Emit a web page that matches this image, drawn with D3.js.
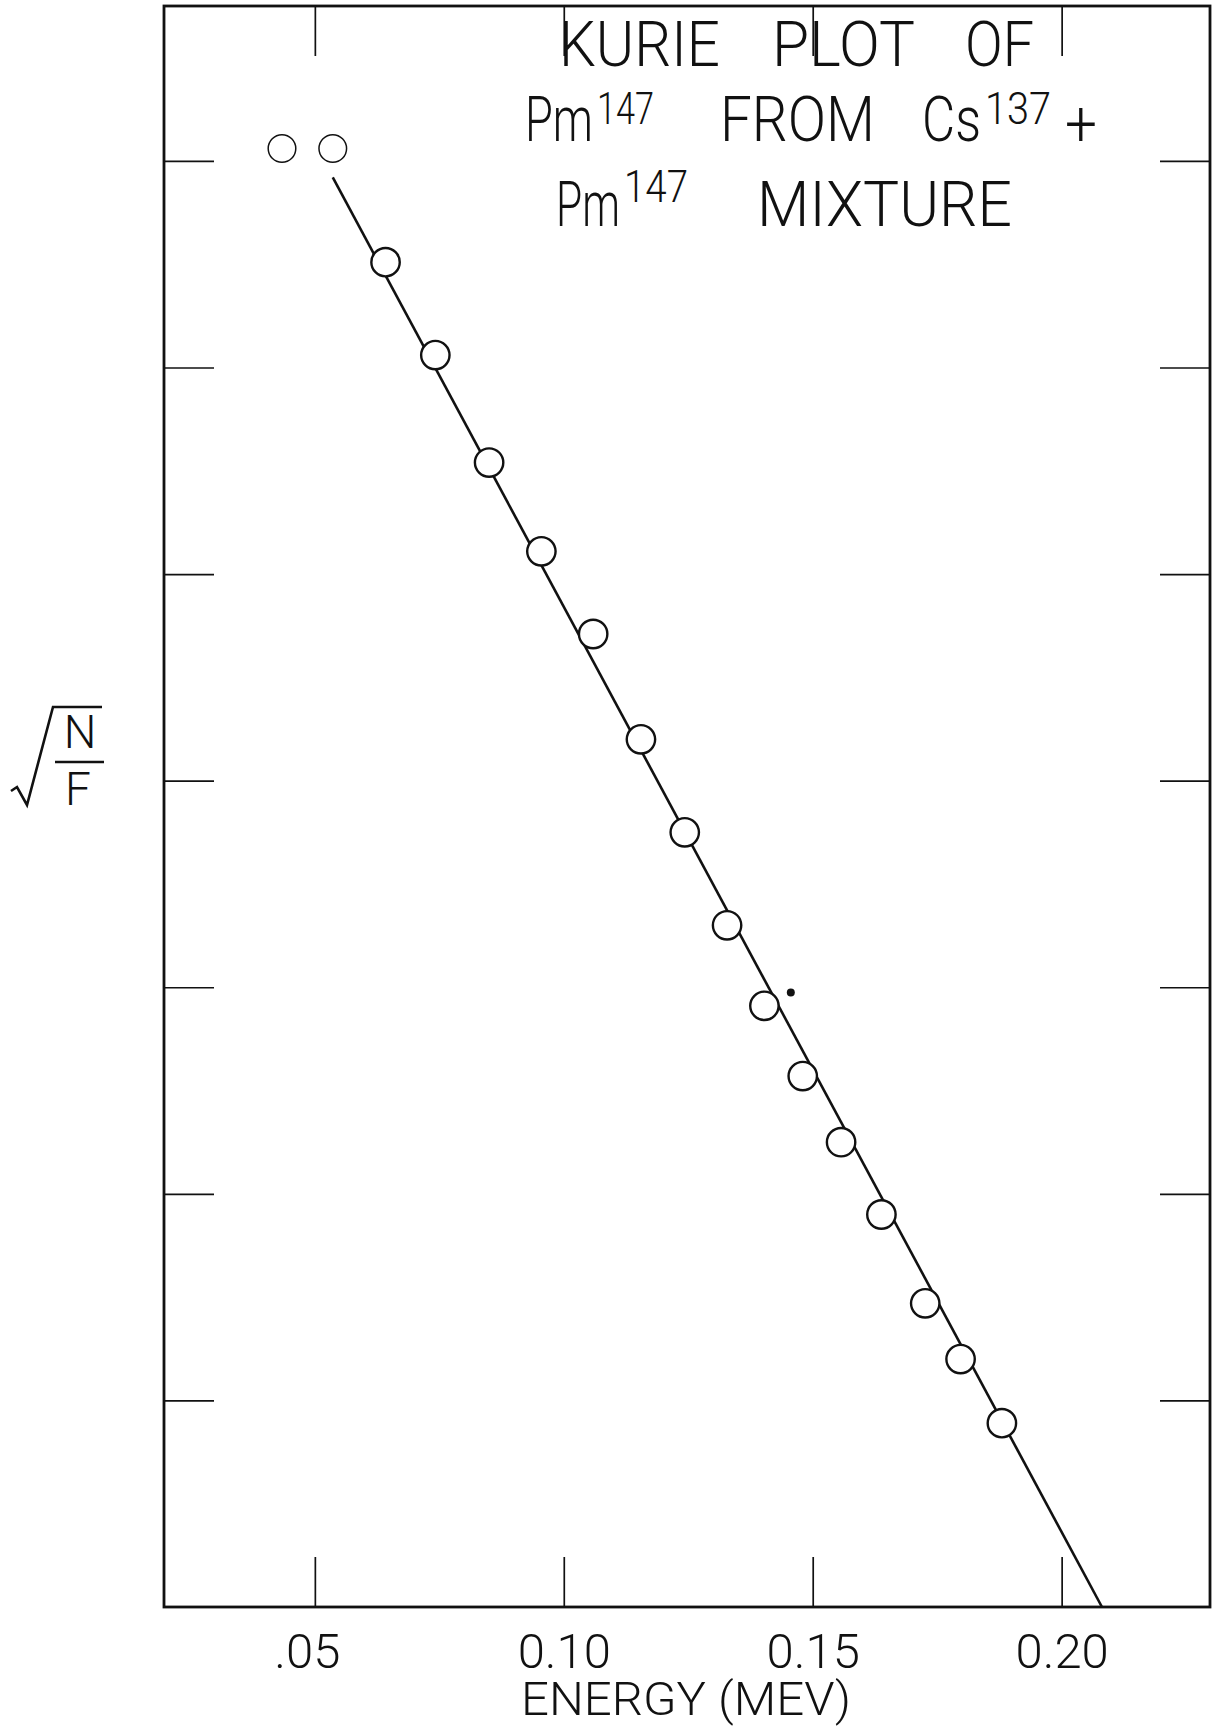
<!DOCTYPE html>
<html>
<head>
<meta charset="utf-8">
<script src="https://cdn.jsdelivr.net/npm/d3@7"></script>
<style>
    body { margin: 0; background: #fff; }
    svg { display: block; }
    text { font-family: Roboto, "Liberation Sans", sans-serif; font-weight: 300; fill: #111; }
</style>
</head>
<body>
<div id="chart"></div>
<script>
"use strict";

// measured points of the Kurie plot (energy in MeV, sqrt(N/F) in tick units)
var energy = [0.0434, 0.0536, 0.0642, 0.0742, 0.0850, 0.0955, 0.1059, 0.1155, 0.1243,
              0.1328, 0.1403, 0.1480, 0.1557, 0.1638, 0.1726, 0.1797, 0.1880];
var sqrtNF = [7.06, 7.06, 6.51, 6.06, 5.54, 5.11, 4.71, 4.20, 3.75,
              3.30, 2.91, 2.57, 2.25, 1.90, 1.47, 1.20, 0.89];

// the two low energy points are drawn lighter
var lightPoints = 2;

// straight line fit
var fitEnergy = [0.0536, 0.2081];
var fitSqrtNF = [6.92, 0];

// single filled dot next to the line
var dotEnergy = [0.1456];
var dotSqrtNF = [2.975];

// axes
var xTickValues = [0.05, 0.10, 0.15, 0.20];
var xTickLabels = [".05", "0.10", "0.15", "0.20"];
var yTickValues = [1, 2, 3, 4, 5, 6, 7];

// title words, hand lettered: [text, superscript?]
var titleLine1 = [["KURIE", 0], ["PLOT", 0], ["OF", 0]];
var titleLine2 = [["Pm", 0], ["147", 1], ["FROM", 0], ["Cs", 0], ["137", 1], ["+", 0]];
var titleLine3 = [["Pm", 0], ["147", 1], ["MIXTURE", 0]];

var width = 1212, height = 1728;

var svg = d3.select("#chart").append("svg")
    .attr("width", width)
    .attr("height", height);

var xScale = d3.scaleLinear()
    .domain([0.0197, 0.2298])
    .range([164, 1210]);

var yScale = d3.scaleLinear()
    .domain([0, 7.75])
    .range([1607, 6]);

var x0 = xScale.range()[0], x1 = xScale.range()[1];
var y0 = yScale.range()[0], y1 = yScale.range()[1];

// inward ticks on all four sides
var tickLen = 50;
function styleAxis(g) {
    g.select(".domain").remove();
    g.selectAll(".tick line").attr("stroke", "#111").attr("stroke-width", 1.7);
}

var bottom = svg.append("g")
    .attr("transform", "translate(0," + y0 + ")")
    .call(d3.axisBottom(xScale).tickValues(xTickValues)
        .tickSizeInner(-tickLen).tickSizeOuter(0).tickPadding(26)
        .tickFormat(function(d, i) { return xTickLabels[i]; }))
    .call(styleAxis);

bottom.selectAll("text")
    .attr("font-size", 49)
    .attr("font-family", null)
    .attr("fill", "#111")
    // the ".05" label sits a little left of its tick
    .attr("dx", function(d, i) { return i === 0 ? -8 : 0; });

svg.append("g")
    .attr("transform", "translate(0," + y1 + ")")
    .call(d3.axisTop(xScale).tickValues(xTickValues)
        .tickSizeInner(-tickLen).tickSizeOuter(0).tickFormat(""))
    .call(styleAxis);

svg.append("g")
    .attr("transform", "translate(" + x0 + ",0)")
    .call(d3.axisLeft(yScale).tickValues(yTickValues)
        .tickSizeInner(-tickLen).tickSizeOuter(0).tickFormat(""))
    .call(styleAxis);

svg.append("g")
    .attr("transform", "translate(" + x1 + ",0)")
    .call(d3.axisRight(yScale).tickValues(yTickValues)
        .tickSizeInner(-tickLen).tickSizeOuter(0).tickFormat(""))
    .call(styleAxis);

// frame
svg.append("rect")
    .attr("x", x0)
    .attr("y", y1)
    .attr("width", x1 - x0)
    .attr("height", y0 - y1)
    .attr("fill", "none")
    .attr("stroke", "#111")
    .attr("stroke-width", 2.8);

// fitted line
var line = d3.line()
    .x(function(d) { return xScale(d[0]); })
    .y(function(d) { return yScale(d[1]); });

svg.append("path")
    .datum(d3.zip(fitEnergy, fitSqrtNF))
    .attr("d", line)
    .attr("fill", "none")
    .attr("stroke", "#111")
    .attr("stroke-width", 2.6);

// data circles
svg.selectAll(".pt")
    .data(d3.zip(energy, sqrtNF))
    .enter().append("circle")
    .attr("class", "pt")
    .attr("cx", function(d) { return xScale(d[0]); })
    .attr("cy", function(d) { return yScale(d[1]); })
    .attr("r", function(d, i) { return i < lightPoints ? 13.8 : 14.2; })
    .attr("fill", "#fff")
    .attr("stroke", "#111")
    .attr("stroke-width", function(d, i) { return i < lightPoints ? 1.5 : 2.4; });

svg.selectAll(".dot")
    .data(d3.zip(dotEnergy, dotSqrtNF))
    .enter().append("circle")
    .attr("class", "dot")
    .attr("cx", function(d) { return xScale(d[0]); })
    .attr("cy", function(d) { return yScale(d[1]); })
    .attr("r", 4)
    .attr("fill", "#111");

// x axis title
svg.append("text")
    .attr("x", 521)
    .attr("y", 1715)
    .attr("font-size", 47)
    .attr("textLength", 330)
    .attr("lengthAdjust", "spacingAndGlyphs")
    .text("ENERGY (MEV)");

// y axis label: sqrt(N/F)
var yl = svg.append("g").attr("transform", "translate(0,707)");
yl.append("path")
    .attr("d", "M11,84 L17,80 L27,98 L53,0 L102,0")
    .attr("fill", "none")
    .attr("stroke", "#111")
    .attr("stroke-width", 2.6)
    .attr("stroke-linejoin", "miter");
yl.append("line")
    .attr("x1", 55).attr("x2", 104)
    .attr("y1", 55).attr("y2", 55)
    .attr("stroke", "#111")
    .attr("stroke-width", 2.6);
yl.append("text")
    .attr("x", 80).attr("y", 41)
    .attr("text-anchor", "middle")
    .attr("font-size", 46)
    .attr("font-weight", 400)
    .text("N");
yl.append("text")
    .attr("x", 78).attr("y", 98)
    .attr("text-anchor", "middle")
    .attr("font-size", 46)
    .attr("font-weight", 400)
    .text("F");

// title block: each word placed and squeezed to the hand lettered width
var titleLayout = [
    { words: titleLine1, y: 66,  sup: 0,  x: [559, 772, 965], w: [161, 143, 69] },
    { words: titleLine2, y: 141, sup: 17, x: [525, 597, 720, 922, 985, 1065], w: [68, 57, 155, 59, 66, 32] },
    { words: titleLine3, y: 226, sup: 24, x: [556, 624, 757], w: [64, 64, 255] }
];

titleLayout.forEach(function(row) {
    row.words.forEach(function(wd, i) {
        var isSup = wd[1] === 1;
        var baseY = isSup ? row.y - row.sup : (wd[0] === "+" ? row.y + 4 : row.y);
        svg.append("text")
            .attr("x", row.x[i])
            .attr("y", baseY)
            .attr("font-size", isSup ? 45 : 63)
            .attr("textLength", row.w[i])
            .attr("lengthAdjust", "spacingAndGlyphs")
            .text(wd[0]);
    });
});
</script>
</body>
</html>
